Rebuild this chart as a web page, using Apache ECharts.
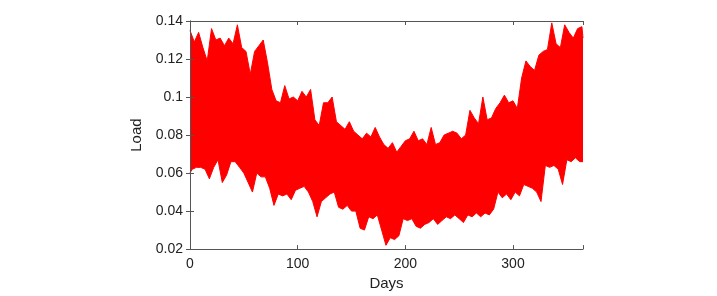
<!DOCTYPE html>
<html>
<head>
<meta charset="utf-8">
<script src="https://cdn.jsdelivr.net/npm/echarts@6/dist/echarts.min.js"></script>
<style>
  html, body { margin: 0; padding: 0; background: #fff; }
  #chart { width: 717px; height: 296px; }
</style>
</head>
<body>
<div id="chart"></div>
<script>
// upper envelope of the load, read every 4 days
const highDays = [0,4,8,12,16,20,24,28,32,36,40,44,48,52,56,60,64,68,72,76,80,84,88,92,96,100,104,108,112,116,120,124,128,132,136,140,144,148,152,156,160,164,168,172,176,180,184,188,192,196,200,204,208,212,216,220,224,228,232,236,240,244,248,252,256,260,264,268,272,276,280,284,288,292,296,300,304,308,312,316,320,324,328,332,336,340,344,348,352,356,360,364,365];
const highLoad = [0.135,0.129,0.134,0.126,0.119,0.136,0.130,0.131,0.127,0.131,0.128,0.138,0.126,0.124,0.112,0.124,0.127,0.130,0.118,0.104,
  0.098,0.097,0.106,0.099,0.100,0.098,0.103,0.100,0.104,0.088,0.085,0.097,0.097,0.100,0.087,0.085,0.083,0.087,0.082,0.080,
  0.078,0.081,0.079,0.084,0.079,0.075,0.073,0.076,0.071,0.074,0.077,0.078,0.082,0.077,0.078,0.075,0.084,0.075,0.076,0.080,
  0.081,0.082,0.081,0.078,0.080,0.093,0.089,0.086,0.100,0.088,0.089,0.094,0.097,0.101,0.097,0.098,0.094,0.110,0.119,0.116,
  0.114,0.122,0.124,0.125,0.139,0.128,0.126,0.138,0.134,0.131,0.136,0.137,0.131];

// lower envelope of the load
const lowDays = [0,2,6,10,14,18,22,26,30,34,38,42,46,50,54,58,62,66,70,74,78,82,86,90,94,98,102,106,110,114,118,122,126,130,134,138,142,146,150,154,158,162,166,170,174,178,182,186,190,194,198,202,206,210,214,218,222,226,230,234,238,242,246,250,254,258,262,266,270,274,278,282,286,290,294,298,302,306,310,314,318,322,326,330,334,338,342,346,350,354,358,362,365];
const lowLoad = [0.060,0.062,0.063,0.063,0.062,0.057,0.063,0.067,0.055,0.059,0.066,0.066,0.063,0.060,0.055,0.050,0.060,0.058,0.058,0.052,0.043,
  0.049,0.048,0.049,0.046,0.051,0.052,0.053,0.050,0.045,0.037,0.045,0.047,0.049,0.050,0.042,0.041,0.043,0.040,0.040,0.031,
  0.030,0.037,0.036,0.038,0.030,0.022,0.026,0.025,0.027,0.036,0.035,0.036,0.032,0.031,0.033,0.034,0.036,0.033,0.035,0.037,
  0.036,0.038,0.036,0.034,0.038,0.037,0.039,0.037,0.039,0.038,0.041,0.050,0.047,0.049,0.046,0.050,0.048,0.054,0.053,0.052,
  0.050,0.045,0.064,0.063,0.064,0.062,0.054,0.067,0.066,0.068,0.066,0.066];

const xTicks = [0, 100, 200, 300];
const yTicks = [0.02, 0.04, 0.06, 0.08, 0.1, 0.12, 0.14];

const highPts = highDays.map((d, i) => [d, highLoad[i]]);
const lowPts = lowDays.map((d, i) => [d, lowLoad[i]]);

const chart = echarts.init(document.getElementById('chart'));
const font = 'Liberation Sans, Arial, sans-serif';
const frame = '#555555';
const red = '#ff0000';

const xBase = {
  type: 'value', min: 0, max: 365, interval: 100, z: 10,
  axisLine: { show: true, lineStyle: { color: frame, width: 1 } },
  axisTick: { inside: true, length: 4, lineStyle: { color: frame } },
  splitLine: { show: false }
};
const yBase = {
  type: 'value', min: 0.02, max: 0.14, interval: 0.02, z: 10,
  axisLine: { show: true, lineStyle: { color: frame, width: 1 } },
  axisTick: { inside: true, length: 4, lineStyle: { color: frame } },
  splitLine: { show: false }
};

chart.setOption({
  animation: false,
  backgroundColor: '#ffffff',
  grid: { left: 190, right: 134, top: 21, bottom: 41 },
  xAxis: [
    Object.assign({}, xBase, {
      position: 'bottom',
      name: 'Days', nameLocation: 'middle', nameGap: 25,
      nameTextStyle: { fontFamily: font, fontSize: 15, color: '#222' },
      axisLabel: {
        fontFamily: font, fontSize: 14, color: '#222', margin: 8,
        formatter: v => xTicks.includes(v) ? String(v) : ''
      }
    }),
    Object.assign({}, xBase, { position: 'top', axisLabel: { show: false } })
  ],
  yAxis: [
    Object.assign({}, yBase, {
      position: 'left',
      name: 'Load', nameLocation: 'middle', nameGap: 41,
      nameTextStyle: { fontFamily: font, fontSize: 15, color: '#222' },
      axisLabel: {
        fontFamily: font, fontSize: 14, color: '#222', margin: 7,
        padding: [6, 0, 0, 0],
        formatter: v => {
          const t = yTicks.find(y => Math.abs(y - v) < 1e-9);
          return t === undefined ? '' : String(t);
        }
      }
    }),
    Object.assign({}, yBase, { position: 'right', axisLabel: { show: false } })
  ],
  series: [
    {
      // red band from the upper envelope down
      type: 'line',
      data: highPts,
      symbol: 'none',
      clip: true,
      z: 2,
      lineStyle: { color: red, width: 1 },
      areaStyle: { color: red, opacity: 1, origin: 'start' }
    },
    {
      // cleared below the lower envelope
      type: 'line',
      data: lowPts,
      symbol: 'none',
      clip: true,
      z: 3,
      lineStyle: { color: red, width: 1 },
      areaStyle: { color: '#ffffff', opacity: 1, origin: 'start' }
    }
  ]
});
</script>
</body>
</html>
